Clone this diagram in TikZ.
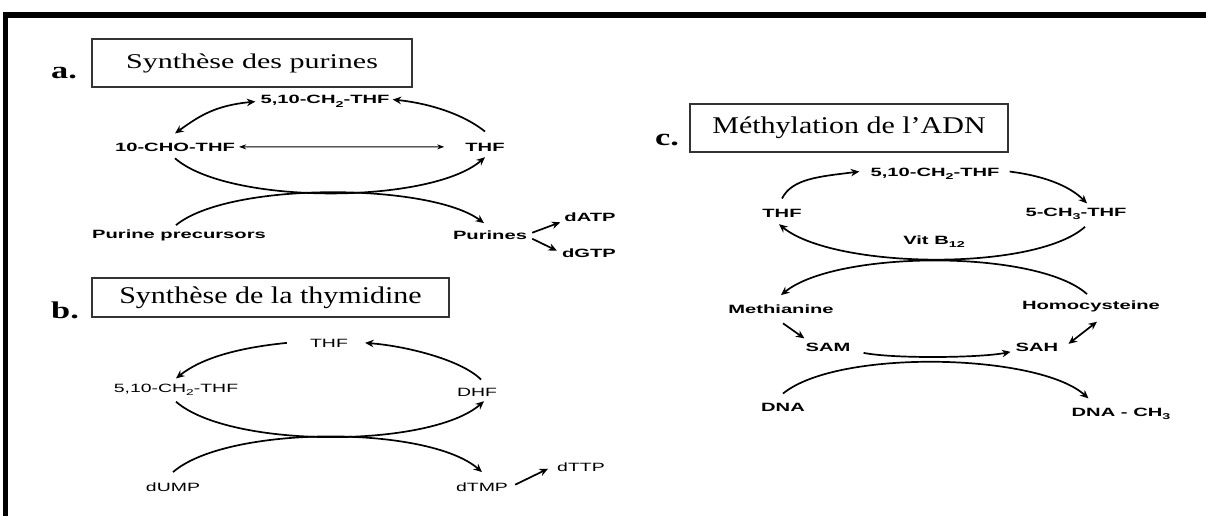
\documentclass[tikz,border=0pt]{standalone}
\usepackage{fontspec}
\setmainfont{Liberation Serif}
\newfontfamily\labfont[FakeStretch=1.68]{Liberation Sans}
\newfontfamily\labbfont[FakeStretch=1.62]{Liberation Sans}
\newfontfamily\titafont[FakeStretch=1.43]{Liberation Serif}
\newfontfamily\titbfont[FakeStretch=1.25]{Liberation Serif}
\newcommand\lowsub[1]{\raisebox{-3.5pt}{\fontsize{8.5}{9}\selectfont #1}}
\usetikzlibrary{arrows.meta}
\begin{document}
\begin{tikzpicture}[x=1pt,y=-1pt,
  lab/.style={font=\labfont\bfseries\fontsize{12}{14}\selectfont, inner sep=1pt, anchor=base},
  labb/.style={font=\labbfont\fontsize{12}{14}\selectfont, inner sep=1pt, anchor=base},
  panel/.style={font=\titafont\bfseries\fontsize{24}{28}\selectfont, inner sep=0pt, anchor=base west},
  tbox/.style={draw=black!80, line width=1.3pt, inner sep=0pt},
  tipa/.tip={Stealth[length=8.5pt,width=7.5pt]},
  arc/.style={line width=1.7pt, -tipa},
  darc/.style={line width=1.7pt, tipa-tipa},
  thinarr/.style={line width=0.8pt, {Stealth[length=7pt,width=5pt]}-{Stealth[length=7pt,width=5pt]}}
]
\useasboundingbox (0,0) rectangle (1206,516);
\fill[white] (0,0) rectangle (1206,516);
% frame
\draw[line width=6pt] (5,15) -- (1206,15);
\draw[line width=5pt] (5.5,12) -- (5.5,516);

% ---------- panel a ----------
\node[panel] (pa) at (51,79) {a.};
\node[tbox, minimum width=320, minimum height=48, font=\titafont\fontsize{21}{24}\selectfont] (ta) at (252,63) {\raisebox{2pt}{Synthèse des purines}};
\node[lab] (aCH2) at (325,104) {5,10-CH\lowsub{2}-THF};
\node[lab] (aCHO) at (175,151) {10-CHO-THF};
\node[lab] (aTHF) at (485,151) {THF};
\node[lab] (aPP) at (179,238) {Purine precursors};
\node[lab] (aPur) at (490,239) {Purines};
\node[lab] (aATP) at (590,221) {dATP};
\node[lab] (aGTP) at (589,257) {dGTP};

\draw[darc] ([xshift=-4pt]aCH2.west) .. controls +(-40,4) and +(25,-18) .. ([yshift=8pt]aCHO.north);
\draw[arc] ([yshift=10pt]aTHF.north) .. controls +(-25,-20) and +(30,3) .. ([xshift=2pt,yshift=2pt]aCH2.east);
\draw[thinarr] ([xshift=3pt]aCHO.east) -- ([xshift=-20pt]aTHF.west);
\draw[arc] ([yshift=-6pt]aCHO.south) .. controls +(54,47) and +(-54,47) .. ([yshift=-5pt]aTHF.south);
\draw[arc] ([xshift=-3pt,yshift=3pt]aPP.north) .. controls +(54,-44) and +(-54,-40) .. ([xshift=-6pt,yshift=6pt]aPur.north);
\draw[arc] ([xshift=4pt,yshift=2pt]aPur.east) -- ([xshift=-3pt]aATP.south west);
\draw[arc] ([xshift=4pt,yshift=-4pt]aPur.east) -- ([xshift=-4pt,yshift=2pt]aGTP.west);

% ---------- panel b ----------
\node[panel] (pb) at (51,318) {b.};
\node[tbox, minimum width=357, minimum height=39, font=\titbfont\fontsize{24}{28}\selectfont] (tb) at (270.5,297.5) {Synthèse de la thymidine};
\node[labb] (bTHF) at (329,347) {THF};
\node[labb] (bCH2) at (176,392) {5,10-CH\lowsub{2}-THF};
\node[labb] (bDHF) at (477,396) {DHF};
\node[labb] (bUMP) at (173,491) {dUMP};
\node[labb] (bTMP) at (482,491) {dTMP};
\node[labb] (bTTP) at (581,471) {dTTP};

\draw[arc] ([xshift=-22pt]bTHF.west) .. controls +(-50,5) and +(25,-20) .. ([yshift=4pt]bCH2.north);
\draw[arc] ([xshift=4pt,yshift=7pt]bDHF.north) .. controls +(-20,-20) and +(40,3) .. ([xshift=16pt]bTHF.east);
\draw[arc] ([yshift=-5pt]bCH2.south) .. controls +(54,47) and +(-54,47) .. ([xshift=7pt,yshift=-4pt]bDHF.south);
\draw[arc] ([yshift=9pt]bUMP.north) .. controls +(54,-47) and +(-54,-47) .. ([yshift=9pt]bTMP.north);
\draw[arc] ([xshift=6pt,yshift=2pt]bTMP.east) -- ([xshift=-8pt,yshift=-2pt]bTTP.west);

% ---------- panel c ----------
\node[panel] (pc) at (655,146) {c.};
\node[tbox, minimum width=318, minimum height=48, font=\titbfont\fontsize{24}{28}\selectfont] (tc) at (849,128) {Méthylation de l’ADN};
\node[lab] (cCH2) at (935,176) {5,10-CH\lowsub{2}-THF};
\node[lab] (cTHF) at (782,217) {THF};
\node[lab] (cCH3) at (1076,216) {5-CH\lowsub{3}-THF};
\node[lab] (cB12) at (934,244) {Vit B\lowsub{12}};
\node[lab] (cMet) at (781,313) {Methianine};
\node[lab] (cHcy) at (1091,309) {Homocysteine};
\node[lab] (cSAM) at (828,351) {SAM};
\node[lab] (cSAH) at (1037,351) {SAH};
\node[lab] (cDNA) at (783,411) {DNA};
\node[lab] (cDNAm) at (1121,416) {DNA - CH\lowsub{3}};

\draw[arc] ([yshift=9pt]cTHF.north) .. controls +(10,-20) and +(-40,5) .. ([xshift=-10pt,yshift=2pt]cCH2.west);
\draw[arc] ([xshift=9pt,yshift=2pt]cCH2.east) .. controls +(40,5) and +(-15,-15) .. ([xshift=11pt,yshift=3pt]cCH3.north);
\draw[arc] ([xshift=9pt,yshift=-6pt]cCH3.south) .. controls +(-50,45) and +(55,45) .. ([xshift=-3pt,yshift=-6pt]cTHF.south);
\draw[arc] ([xshift=-4pt,yshift=5pt]cHcy.north) .. controls +(-50,-45) and +(55,-45) .. ([yshift=8pt]cMet.north);
\draw[arc] ([xshift=2pt,yshift=-9pt]cMet.south) -- ([yshift=3pt]cSAM.north west);
\draw[darc] ([xshift=9pt,yshift=3pt]cSAH.east) -- ([xshift=6pt,yshift=-9pt]cHcy.south);
\draw[arc] ([xshift=12pt,yshift=-6pt]cSAM.east) .. controls +(30,6) and +(-30,6) .. ([xshift=-4pt,yshift=-5pt]cSAH.west);
\draw[arc] ([yshift=8pt]cDNA.north) .. controls +(55,-45) and +(-50,-45) .. ([xshift=18pt,yshift=8pt]cDNAm.north west);
\end{tikzpicture}
\end{document}
